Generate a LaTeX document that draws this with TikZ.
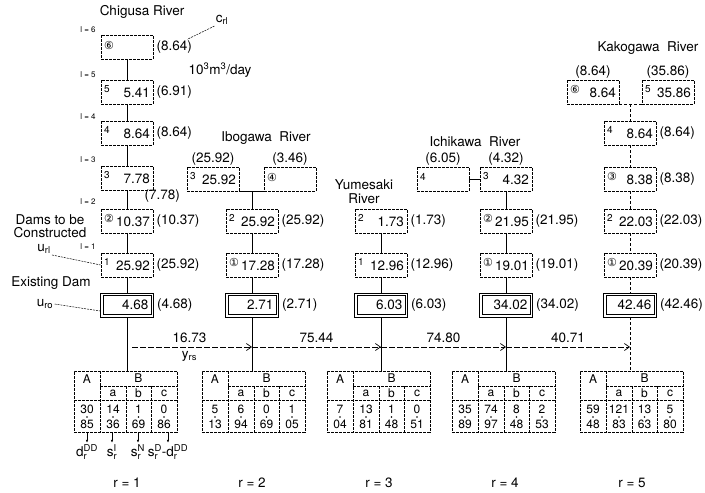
\documentclass[tikz,border=0pt]{standalone}
\usepackage{fontspec}
\setmainfont{TeX Gyre Heros}
\newfontfamily\symf{DejaVu Sans}
\usetikzlibrary{arrows.meta,positioning}
\newcommand{\fsn}{\fontsize{13.5}{15}\selectfont}
\newcommand{\ix}[1]{\raisebox{5pt}{\fontsize{10}{10}\selectfont #1}}
\newcommand{\cix}[1]{\raisebox{4pt}{\symf\fontsize{11}{11}\selectfont #1}}
\newcommand{\dv}[2]{#1\\#2}

\begin{document}
\begin{tikzpicture}[
    x=1pt,y=-1pt,line width=0.7pt,
    dam/.style={draw,dash pattern=on 3pt off 1pt,minimum height=24pt,
                text width=46pt,inner sep=3pt,font=\fsn},
    exdam/.style={draw,minimum height=24pt,text width=43pt,inner sep=5pt,font=\fsn},
    val/.style={font=\fsn,inner sep=1pt},
    ttl/.style={font=\fsn,align=center,inner sep=1pt},
    lvl/.style={font=\fontsize{8}{9}\selectfont,inner sep=1pt},
    link/.style={},
    dlink/.style={dash pattern=on 3pt off 2pt},
    lead/.style={line width=0.5pt,dash pattern=on 2pt off 1pt},
    flow/.style={dash pattern=on 6pt off 2pt,-{Straight Barb[length=5pt,width=7pt]}},
    tick/.style={-{Latex[length=3pt,width=2.5pt]}},
    tabbox/.style={draw,dash pattern=on 3pt off 1pt,minimum width=103pt,
                   minimum height=61pt,inner sep=0pt},
    tab/.style={dash pattern=on 3pt off 1pt},
    th/.style={font=\fontsize{12}{13}\selectfont,inner sep=0pt},
    tv/.style={font=\fontsize{12}{15}\selectfont,align=center,inner sep=0pt}
  ]
  \path[fill=white] (0,0) rectangle (705,493);

  % Chigusa River
  \node[ttl] (tch) at (142,12) {Chigusa River};
  \node[dam] (c6) at (127,47) {\cix{⑥}\hfill};
  \node[dam] (c5) at (127,92) {\ix{5}\hfill 5.41};
  \node[dam] (c4) at (127,133) {\ix{4}\hfill 8.64};
  \node[dam] (c3) at (127,178) {\ix{3}\hfill 7.78};
  \node[dam] (c2) at (127,221) {\cix{②}\hfill 10.37};
  \node[dam] (c1) at (127,265) {\ix{1}\hfill 25.92};
  \node[exdam] (c0) at (127,305) {\hfill 4.68};
  \node[val,right=2pt of c6] (c6v) {(8.64)};
  \node[val,right=2pt of c5] (c5v) {(6.91)};
  \node[val,right=2pt of c4] (c4v) {(8.64)};
  \node[val,below right=-2pt and -10pt of c3] (c3v) {(7.78)};
  \node[val,right=2pt of c2] (c2v) {(10.37)};
  \node[val,right=2pt of c1] (c1v) {(25.92)};
  \node[val,right=2pt of c0] (c0v) {(4.68)};
  \node[lvl] (l6) at (88,30) {l = 6};
  \node[lvl] (l5) at (88,75) {l = 5};
  \node[lvl] (l4) at (88,117) {l = 4};
  \node[lvl] (l3) at (88,160) {l = 3};
  \node[lvl] (l2) at (88,202) {l = 2};
  \node[lvl] (l1) at (88,247) {l = 1};
  \node[val] (crl) at (222,20) {$\mathrm{c_{rl}}$};
  \node[val] (unit) at (220,70) {10\textsuperscript{3}m\textsuperscript{3}/day};
  \node[ttl] (dtc) at (50,226) {Dams to be\\[-2pt]Constructed};
  \node[val] (url) at (44,249) {$\mathrm{u_{rl}}$};
  \node[ttl] (exd) at (51,283) {Existing Dam};
  \node[val] (uro) at (45,304) {$\mathrm{u_{ro}}$};

  % Ibogawa River
  \node[ttl] (tib) at (266,138) {Ibogawa\ \ River};
  \node[dam] (ib3) at (213,179) {\ix{3}\hfill 25.92};
  \node[dam] (ib4) at (290,179) {\cix{④}\hfill};
  \node[dam] (ib2) at (252,221) {\ix{2}\hfill 25.92};
  \node[dam] (ib1) at (252,265) {\cix{①}\hfill 17.28};
  \node[exdam] (ib0) at (252,305) {\hfill 2.71};
  \node[val,above=0pt of ib3] (ib3v) {(25.92)};
  \node[val,above=0pt of ib4] (ib4v) {(3.46)};
  \node[val,right=2pt of ib2] (ib2v) {(25.92)};
  \node[val,right=2pt of ib1] (ib1v) {(17.28)};
  \node[val,right=2pt of ib0] (ib0v) {(2.71)};

  % Yumesaki River
  \node[ttl] (tyu) at (364,192) {Yumesaki\\[-1pt]River};
  \node[dam] (yu2) at (381,221) {\ix{2}\hfill 1.73};
  \node[dam] (yu1) at (381,265) {\ix{1}\hfill 12.96};
  \node[exdam] (yu0) at (381,305) {\hfill 6.03};
  \node[val,right=2pt of yu2] (yu2v) {(1.73)};
  \node[val,right=2pt of yu1] (yu1v) {(12.96)};
  \node[val,right=2pt of yu0] (yu0v) {(6.03)};

  % Ichikawa River
  \node[ttl] (tic) at (475,142) {Ichikawa\ \ River};
  \node[dam] (ic4) at (443,179) {\ix{4}\hfill};
  \node[dam] (ic3) at (506,179) {\ix{3}\hfill 4.32};
  \node[dam] (ic2) at (506,221) {\cix{②}\hfill 21.95};
  \node[dam] (ic1) at (506,265) {\cix{①}\hfill 19.01};
  \node[exdam] (ic0) at (506,305) {\hfill 34.02};
  \node[val,above=0pt of ic4] (ic4v) {(6.05)};
  \node[val,above=0pt of ic3] (ic3v) {(4.32)};
  \node[val,right=2pt of ic2] (ic2v) {(21.95)};
  \node[val,right=2pt of ic1] (ic1v) {(19.01)};
  \node[val,right=2pt of ic0] (ic0v) {(34.02)};

  % Kakogawa River
  \node[ttl] (tka) at (648,48) {Kakogawa\ \ River};
  \node[dam] (ka6) at (593,92) {\cix{⑥}\hfill 8.64};
  \node[dam] (ka5) at (668,92) {\ix{5}\hfill 35.86};
  \node[dam] (ka4) at (630,133) {\ix{4}\hfill 8.64};
  \node[dam] (ka3) at (630,179) {\cix{③}\hfill 8.38};
  \node[dam] (ka2) at (630,221) {\ix{2}\hfill 22.03};
  \node[dam] (ka1) at (630,265) {\cix{①}\hfill 20.39};
  \node[exdam] (ka0) at (630,305) {\hfill 42.46};
  \node[val,above=0pt of ka6] (ka6v) {(8.64)};
  \node[val,above=0pt of ka5] (ka5v) {(35.86)};
  \node[val,right=2pt of ka4] (ka4v) {(8.64)};
  \node[val,right=2pt of ka3] (ka3v) {(8.38)};
  \node[val,right=2pt of ka2] (ka2v) {(22.03)};
  \node[val,right=2pt of ka1] (ka1v) {(20.39)};
  \node[val,right=2pt of ka0] (ka0v) {(42.46)};

  % inner frame of the existing dams
  \foreach \d in {c0,ib0,yu0,ic0,ka0}
    \draw ([shift={(3pt,-3pt)}]\d.north west) rectangle ([shift={(-3pt,3pt)}]\d.south east);

  % tables
  \foreach \rr/\x/\Ap/\Aq/\ap/\aq/\bp/\bq/\cp/\cq in
      {1/74/30/85/14/36/1/69/0/86, 2/202/5/13/6/94/0/69/1/05,
       3/327/7/04/13/81/1/48/0/51, 4/452/35/89/74/97/8/48/2/53,
       5/580/59/48/121/83/13/63/5/80}{
    \node[tabbox] (t\rr) at (\x+51.5,401.5) {};
    \draw[tab] (\x+26,371) -- (\x+26,432);
    \draw[tab] (\x,400) -- (\x+103,400);
    \draw[tab] (\x+26,386) -- (\x+103,386);
    \draw[tab] (\x+52,386) -- (\x+52,432);
    \draw[tab] (\x+77,386) -- (\x+77,432);
    \node[th] (t\rr-hA) at (\x+13,379) {A};
    \node[th] (t\rr-hB) at (\x+64.5,378.5) {B};
    \node[th] (t\rr-ha) at (\x+39,393) {a};
    \node[th] (t\rr-hb) at (\x+64.5,393) {b};
    \node[th] (t\rr-hc) at (\x+90,393) {c};
    \node[tv] (t\rr-A) at (\x+13,416.5) {\dv{\Ap}{\Aq}};
    \node[tv] (t\rr-a) at (\x+39,416.5) {\dv{\ap}{\aq}};
    \node[tv] (t\rr-b) at (\x+64.5,416.5) {\dv{\bp}{\bq}};
    \node[tv] (t\rr-c) at (\x+90,416.5) {\dv{\cp}{\cq}};
    \foreach \cc in {A,a,b,c}
      \fill ([yshift=-0.5pt]t\rr-\cc.center) circle (0.8pt);
  }
  \node[val] (ldd) at (87,452) {$\mathrm{d_r^{DD}}$};
  \node[val] (lsi) at (112,452) {$\mathrm{s_r^{I}}$};
  \node[val] (lsn) at (138,452) {$\mathrm{s_r^{N}}$};
  \node[val] (lsd) at (168,452) {$\mathrm{s_r^{D}}\mbox{-}\mathrm{d_r^{DD}}$};
  \node[val] (r1) at (127,483) {r = 1};
  \node[val] (r2) at (252,483) {r = 2};
  \node[val] (r3) at (379,483) {r = 3};
  \node[val] (r4) at (505,483) {r = 4};
  \node[val] (r5) at (632,483) {r = 5};

  \coordinate (j1) at (127,347);
  \coordinate (j2) at (252,347);
  \coordinate (j3) at (381,347);
  \coordinate (j4) at (506,347);
  \coordinate (j5) at (630,347);

  \draw[link] (c6) -- (c5);
  \draw[link] (c5) -- (c4);
  \draw[link] (c4) -- (c3);
  \draw[link] (c3) -- (c2);
  \draw[link] (c2) -- (c1);
  \draw[link] (c1) -- (c0);
  \draw[link] (c0) -- (c0 |- t1.north);
  \draw[link] (ib3.south east) -- (ib4.south west);
  \draw[link] (ib3.south east -| ib2) -- (ib2);
  \draw[link] (ib2) -- (ib1);
  \draw[link] (ib1) -- (ib0);
  \draw[link] (ib0) -- (ib0 |- t2.north);
  \draw[link] (yu2) -- (yu1);
  \draw[link] (yu1) -- (yu0);
  \draw[link] (yu0) -- (yu0 |- t3.north);
  \draw[link] (ic4) -- (ic3);
  \draw[link] (ic3) -- (ic2);
  \draw[link] (ic2) -- (ic1);
  \draw[link] (ic1) -- (ic0);
  \draw[link] (ic0) -- (ic0 |- t4.north);
  \draw[dlink] (ka6.south east) -- (ka5.south west);
  \draw[dlink] (ka6.south east -| ka4) -- (ka4);
  \draw[dlink] (ka4) -- (ka3);
  \draw[dlink] (ka3) -- (ka2);
  \draw[dlink] (ka2) -- (ka1);
  \draw[dlink] (ka1) -- (ka0);
  \draw[dlink] (ka0) -- (ka0 |- t5.north);

  \draw[flow,shorten <=5pt] (j1) -- node[val,above=3pt] (f12) {16.73}
        node[val,below=3pt] (yrs) {$\mathrm{y_{rs}}$} (j2);
  \draw[flow] (j2) -- node[val,above=3pt] (f23) {75.44} (j3);
  \draw[flow] (j3) -- node[val,above=3pt] (f34) {74.80} (j4);
  \draw[flow] (j4) -- node[val,above=3pt] (f45) {40.71} (j5);

  \draw[lead] (crl.south west) -- ([xshift=-6pt]c6v.north east);
  \draw[lead] (url.south east) -- (c1.west);
  \draw[lead] (uro.east) -- ([yshift=-6pt]c0.west);

  \draw[tick] (ldd |- t1.south) -- (ldd);
  \draw[tick] (lsi |- t1.south) -- (lsi);
  \draw[tick] (lsn |- t1.south) -- (lsn);
  \draw[tick] (lsd |- t1.south) -- (lsd);
\end{tikzpicture}
\end{document}
